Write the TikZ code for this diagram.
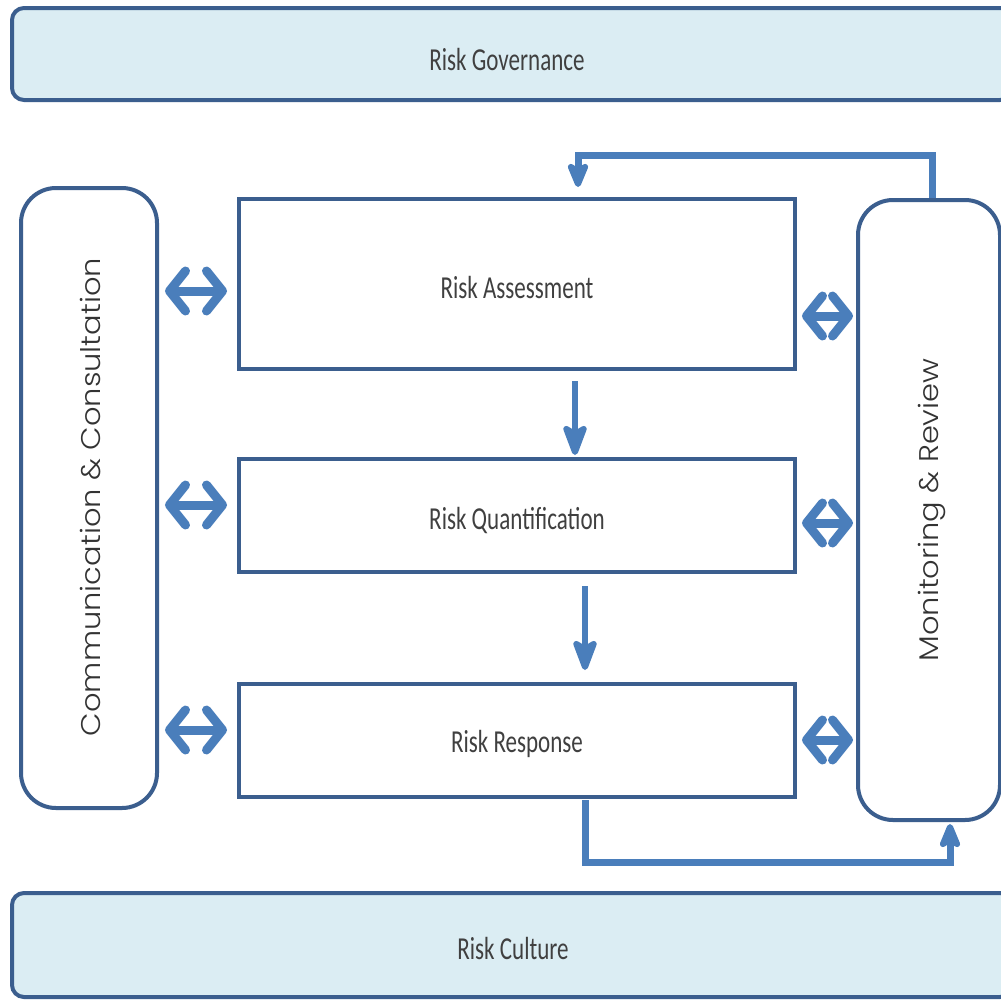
\documentclass[tikz,border=0pt]{standalone}
\usepackage{fontspec}
\setmainfont{Carlito}
\newfontfamily\sidefont{Poppins Light}
\usetikzlibrary{arrows.meta,calc}
\definecolor{boxline}{HTML}{3B5E8E}
\definecolor{arrowblue}{HTML}{4A7EBB}
\definecolor{barfill}{HTML}{DBEDF3}
\tikzset{
  bar/.style={draw=boxline, fill=barfill, line width=4pt, rounded corners=12pt, inner sep=0pt},
  sidebox/.style={draw=boxline, fill=white, line width=4pt, rounded corners=35pt, inner sep=0pt},
  stepbox/.style={draw=boxline, fill=white, line width=4pt, inner sep=0pt, minimum width=556pt},
  lbl/.style={font=\fontsize{32}{36}\selectfont, text=black!75},
  sidelbl/.style={font=\sidefont\fontsize{27}{30}\selectfont, text=black!80, rotate=90},
  dbl/.style={draw=arrowblue, line width=9pt, {Straight Barb[round,length=16pt,width=40pt]}-{Straight Barb[round,length=16pt,width=40pt]}},
  down/.style={draw=arrowblue, line width=6pt, -{Stealth[round,length=38pt,width=28pt,inset=8pt]}},
  fb/.style={draw=arrowblue, line width=7pt, -{Stealth[round,length=32pt,width=26pt,inset=8pt]}}
}
\newcommand{\cond}[1]{\scalebox{0.72}[1]{#1}}
\newcommand{\wide}[1]{\scalebox{1.13}[1]{#1}}
\begin{document}
\begin{tikzpicture}[x=1pt,y=-1pt]
\useasboundingbox (0,0) rectangle (1001,999);
\clip (0,0) rectangle (1001,999);
\fill[white] (0,0) rectangle (1001,999);
\node[bar, minimum width=1000pt, minimum height=92pt] (gov) at (512,54) {};
\node[lbl] (govt) at (507,60) {\cond{Risk Governance}};
\node[bar, minimum width=1000pt, minimum height=104pt] (cul) at (512,945) {};
\node[lbl] (cult) at (513,948) {\cond{Risk Culture}};
\node[sidebox, minimum width=136pt, minimum height=620pt] (comm) at (89,498) {};
\node[sidelbl] (commt) at (91,497) {\wide{Communication \& Consultation}};
\node[sidebox, minimum width=142pt, minimum height=620pt] (mon) at (929,510) {};
\node[sidelbl] (mont) at (932,510) {\wide{Monitoring \& Review}};
\node[stepbox, minimum height=170pt] (ra) at (517,284) {};
\node[lbl] (rat) at (517,288) {\cond{Risk Assessment}};
\node[stepbox, minimum height=113pt] (rq) at (517,515.5) {};
\node[lbl] (rqt) at (517,520) {\cond{Risk Quantification}};
\node[stepbox, minimum height=113pt] (rr) at (517,740.5) {};
\node[lbl] (rrt) at (517,744) {\cond{Risk Response}};
% double arrows left
\draw[dbl] ($(comm.east|-0,291)+(6,0)$) -- ($(ra.west|-0,291)+(-10,0)$);
\draw[dbl] ($(comm.east|-0,505)+(6,0)$) -- ($(rq.west|-0,505)+(-10,0)$);
\draw[dbl] ($(comm.east|-0,730)+(6,0)$) -- ($(rr.west|-0,730)+(-10,0)$);
% double arrows right
\draw[dbl] ($(ra.east|-0,316)+(5,0)$) -- ($(mon.west|-0,316)+(-3,0)$);
\draw[dbl] ($(rq.east|-0,523)+(5,0)$) -- ($(mon.west|-0,523)+(-3,0)$);
\draw[dbl] ($(rr.east|-0,740)+(5,0)$) -- ($(mon.west|-0,740)+(-3,0)$);
% down arrows
\draw[down] ($(ra.south-|575,0)+(0,10)$) -- ($(rq.north-|575,0)+(0,-2)$);
\draw[down] ($(rq.south-|585,0)+(0,12)$) -- ($(rr.north-|585,0)+(0,-12)$);
% feedback loops
\coordinate (fbend) at (578,187);
\draw[fb] (mon.north-|932,0) |- (fbend|-0,155) -- (fbend);
\draw[fb] ($(rr.south-|585,0)+(0,1)$) |- (950,862) -- ($(mon.south-|950,0)+(0,2)$);
\end{tikzpicture}
\end{document}
